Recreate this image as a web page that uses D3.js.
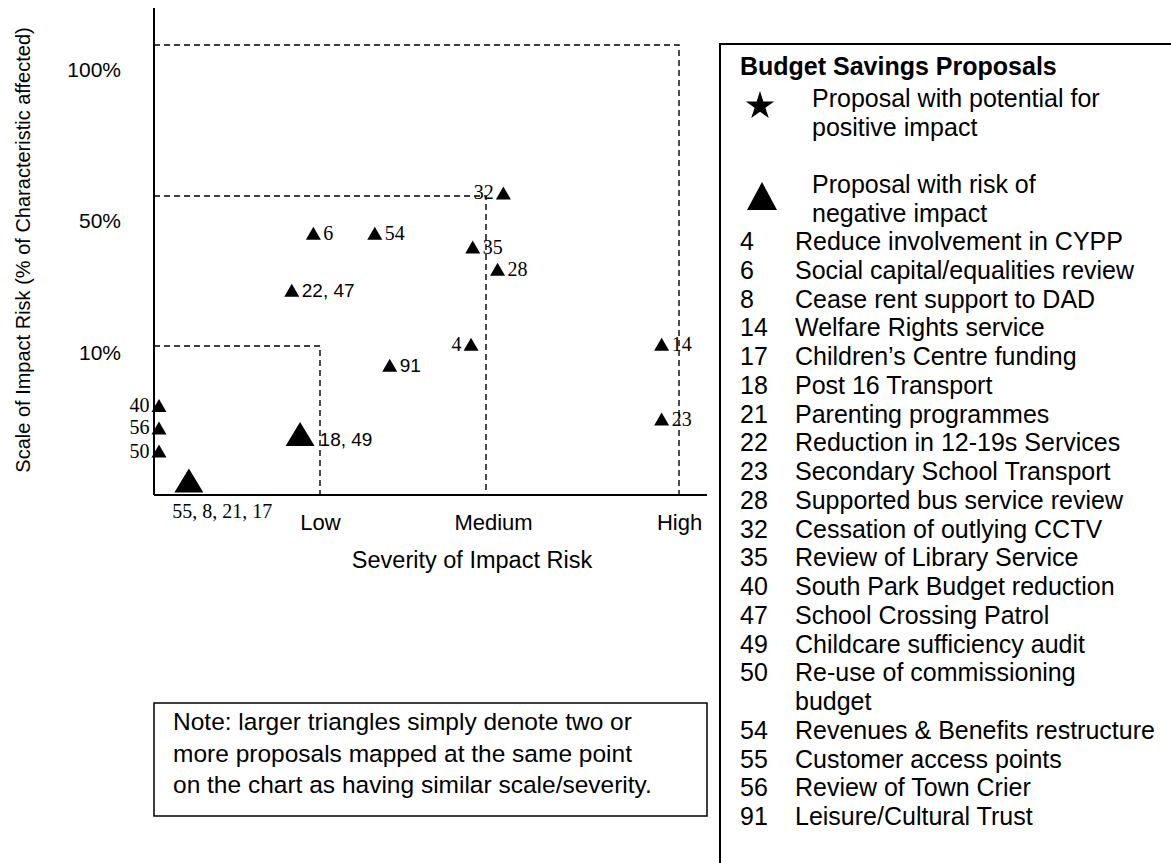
<!DOCTYPE html>
<html>
<head>
<meta charset="utf-8">
<script src="https://cdn.jsdelivr.net/npm/d3@7"></script>
<style>
  body { margin: 0; background: #fff; }
  svg { display: block; }
</style>
</head>
<body>
<div id="chart"></div>
<script>
// x axis: severity categories
const severityLabels = ["Low", "Medium", "High"];
const severityValues = [1, 2, 3];
// y axis: scale thresholds (% of characteristic affected)
const scaleLabels = ["10%", "50%", "100%"];
const scaleValues = [10, 50, 100];

// proposals mapped on the chart (severity 0-3, scale in %)
const pointLabels   = ["6", "54", "22, 47", "32", "35", "28", "4", "14", "23", "91", "40", "56", "50", "18, 49", "55, 8, 21, 17"];
const pointSeverity = [0.96, 1.33, 0.83, 2.09, 1.92, 2.06, 1.91, 2.91, 2.91, 1.42, 0.03, 0.03, 0.03, 0.88, 0.21];
const pointScale    = [40.1, 40.1, 24.9, 51.0, 36.4, 30.5, 10.5, 10.5, 5.1, 8.7, 6.0, 4.5, 2.95, 4.1, 0.97];
const pointMerged   = [false, false, false, false, false, false, false, false, false, false, false, false, false, true, true];

// legend
const legendTitle = "Budget Savings Proposals";
const legendKeys = [["Proposal with potential for", "positive impact"], ["Proposal with risk of", "negative impact"]];
const proposalIds = ["4", "6", "8", "14", "17", "18", "21", "22", "23", "28", "32", "35", "40", "47", "49", "50", "54", "55", "56", "91"];
const proposalNames = ["Reduce involvement in CYPP", "Social capital/equalities review", "Cease rent support to DAD",
  "Welfare Rights service", "Children\u2019s Centre funding", "Post 16 Transport", "Parenting programmes",
  "Reduction in 12-19s Services", "Secondary School Transport", "Supported bus service review",
  "Cessation of outlying CCTV", "Review of Library Service", "South Park Budget reduction",
  "School Crossing Patrol", "Childcare sufficiency audit", "Re-use of commissioning\nbudget",
  "Revenues & Benefits restructure", "Customer access points", "Review of Town Crier", "Leisure/Cultural Trust"];

const noteLines = ["Note: larger triangles simply denote two or",
  "more proposals mapped at the same point",
  "on the chart as having similar scale/severity."];

const sans = "Arial, 'Liberation Sans', sans-serif";
const serif = "'Times New Roman', 'Liberation Serif', serif";

const svg = d3.select("#chart").append("svg")
    .attr("width", 1171)
    .attr("height", 863);

const x = d3.scaleLinear().domain([0].concat(severityValues)).range([154, 320, 486, 679]);
const y = d3.scaleLinear().domain([0].concat(scaleValues)).range([495, 346, 196, 45]);

function tri(w, h) {
    return "M0," + (-h / 2) + "L" + (w / 2) + "," + (h / 2) + "L" + (-w / 2) + "," + (h / 2) + "Z";
}

// DASHED ZONES
svg.selectAll(".zone")
    .data(scaleValues)
    .join("path")
    .attr("class", "zone")
    .attr("d", (v, i) => "M" + x(0) + "," + y(v) + "H" + x(severityValues[i]) + "V" + y(0))
    .attr("fill", "none")
    .attr("stroke", "#000")
    .attr("stroke-width", 1.4)
    .attr("stroke-dasharray", "6,4");

// AXIS LINES
svg.append("line")
    .attr("x1", x(0)).attr("x2", x(0))
    .attr("y1", 8).attr("y2", y(0))
    .attr("stroke", "#000").attr("stroke-width", 2);
svg.append("line")
    .attr("x1", x(0)).attr("x2", 707)
    .attr("y1", y(0)).attr("y2", y(0))
    .attr("stroke", "#000").attr("stroke-width", 2);

// X TICKS ("Medium" sits a bit right of its line)
const xShift = {1: 0, 2: 7, 3: 0};
const xAxis = svg.append("g")
    .attr("transform", "translate(0," + y(0) + ")")
    .call(d3.axisBottom(x).tickValues(severityValues)
        .tickFormat((d, i) => severityLabels[i]).tickSize(0).tickPadding(19));
xAxis.select(".domain").remove();
xAxis.selectAll("text")
    .attr("font-family", sans).attr("font-size", 22).attr("fill", "#000")
    .attr("dx", d => xShift[d]);

// Y TICKS (labels sit a little under their threshold line)
const yShift = {10: 7, 50: 25, 100: 25};
const yAxis = svg.append("g")
    .attr("transform", "translate(" + x(0) + ",0)")
    .call(d3.axisLeft(y).tickValues(scaleValues)
        .tickFormat((d, i) => scaleLabels[i]).tickSize(0).tickPadding(33));
yAxis.select(".domain").remove();
yAxis.selectAll("text")
    .attr("font-family", sans).attr("font-size", 21).attr("fill", "#000")
    .attr("dy", d => (0.32 * 21 + yShift[d]) + "px");

// AXIS TITLES
svg.append("text")
    .attr("x", 472).attr("y", 568)
    .attr("text-anchor", "middle")
    .attr("font-family", sans).attr("font-size", 23.5)
    .text("Severity of Impact Risk");
svg.append("text")
    .attr("transform", "translate(30,250) rotate(-90)")
    .attr("text-anchor", "middle")
    .attr("font-family", sans).attr("font-size", 20)
    .text("Scale of Impact Risk (% of Characteristic affected)");

// POINTS
const leftLabels = new Set(["32", "4", "40", "56", "50"]);
const sansLabels = new Set(["22, 47", "91", "18, 49"]);
const pts = pointLabels.map((l, i) => ({
    label: l, sev: pointSeverity[i], scale: pointScale[i], merged: pointMerged[i],
    w: pointMerged[i] ? 29 : 15, h: pointMerged[i] ? 24 : 13
}));

const pg = svg.selectAll(".pt")
    .data(pts)
    .join("g")
    .attr("class", "pt")
    .attr("transform", d => "translate(" + x(d.sev) + "," + y(d.scale) + ")");

pg.append("path")
    .attr("d", d => tri(d.w, d.h))
    .attr("fill", "#000");

pg.append("text")
    .attr("x", d => {
        if (d.label == "55, 8, 21, 17") return -d.w / 2 - 2;
        if (leftLabels.has(d.label)) return -d.w / 2 - 2;
        return d.w / 2 + (d.merged ? 5 : 2.5);
    })
    .attr("y", d => d.label == "55, 8, 21, 17" ? d.h / 2 + 25 : d.h / 2)
    .attr("text-anchor", d => leftLabels.has(d.label) ? "end" : "start")
    .attr("font-family", d => sansLabels.has(d.label) ? sans : serif)
    .attr("font-size", d => sansLabels.has(d.label) ? 19 : 20)
    .text(d => d.label);

// NOTE BOX
svg.append("rect")
    .attr("x", 154).attr("y", 703)
    .attr("width", 553).attr("height", 113)
    .attr("fill", "none").attr("stroke", "#000").attr("stroke-width", 1.5);
svg.selectAll(".note")
    .data(noteLines)
    .join("text")
    .attr("class", "note")
    .attr("x", 173)
    .attr("y", (d, i) => 730 + i * 31.5)
    .attr("font-family", sans).attr("font-size", 24.5)
    .text(d => d);

// LEGEND
const lg = svg.append("g");
lg.append("rect")
    .attr("x", 720).attr("y", 44)
    .attr("width", 600).attr("height", 900)
    .attr("fill", "none").attr("stroke", "#000").attr("stroke-width", 2);

lg.append("text")
    .attr("x", 740).attr("y", 75)
    .attr("font-family", sans).attr("font-size", 25).attr("font-weight", "bold")
    .text(legendTitle);

lg.append("path")
    .attr("transform", "translate(760,106)")
    .attr("d", d3.symbol().type(d3.symbolStar).size(250))
    .attr("fill", "#000");
lg.append("path")
    .attr("transform", "translate(762,196)")
    .attr("d", tri(30, 28))
    .attr("fill", "#000");

const keyBase = [107, 193];
legendKeys.forEach((lines, k) => {
    lg.selectAll(".key" + k)
        .data(lines)
        .join("text")
        .attr("class", "key" + k)
        .attr("x", 812)
        .attr("y", (d, i) => keyBase[k] + i * 28.75)
        .attr("font-family", sans).attr("font-size", 25)
        .text(d => d);
});

let row = 0;
proposalIds.forEach((id, i) => {
    const lines = proposalNames[i].split("\n");
    const yy = 250 + row * 28.75;
    lg.append("text")
        .attr("x", 740).attr("y", yy)
        .attr("font-family", sans).attr("font-size", 25)
        .text(id);
    lines.forEach((ln, j) => {
        lg.append("text")
            .attr("x", 795).attr("y", yy + j * 28.75)
            .attr("font-family", sans).attr("font-size", 25)
            .text(ln);
    });
    row += lines.length;
});
</script>
</body>
</html>
